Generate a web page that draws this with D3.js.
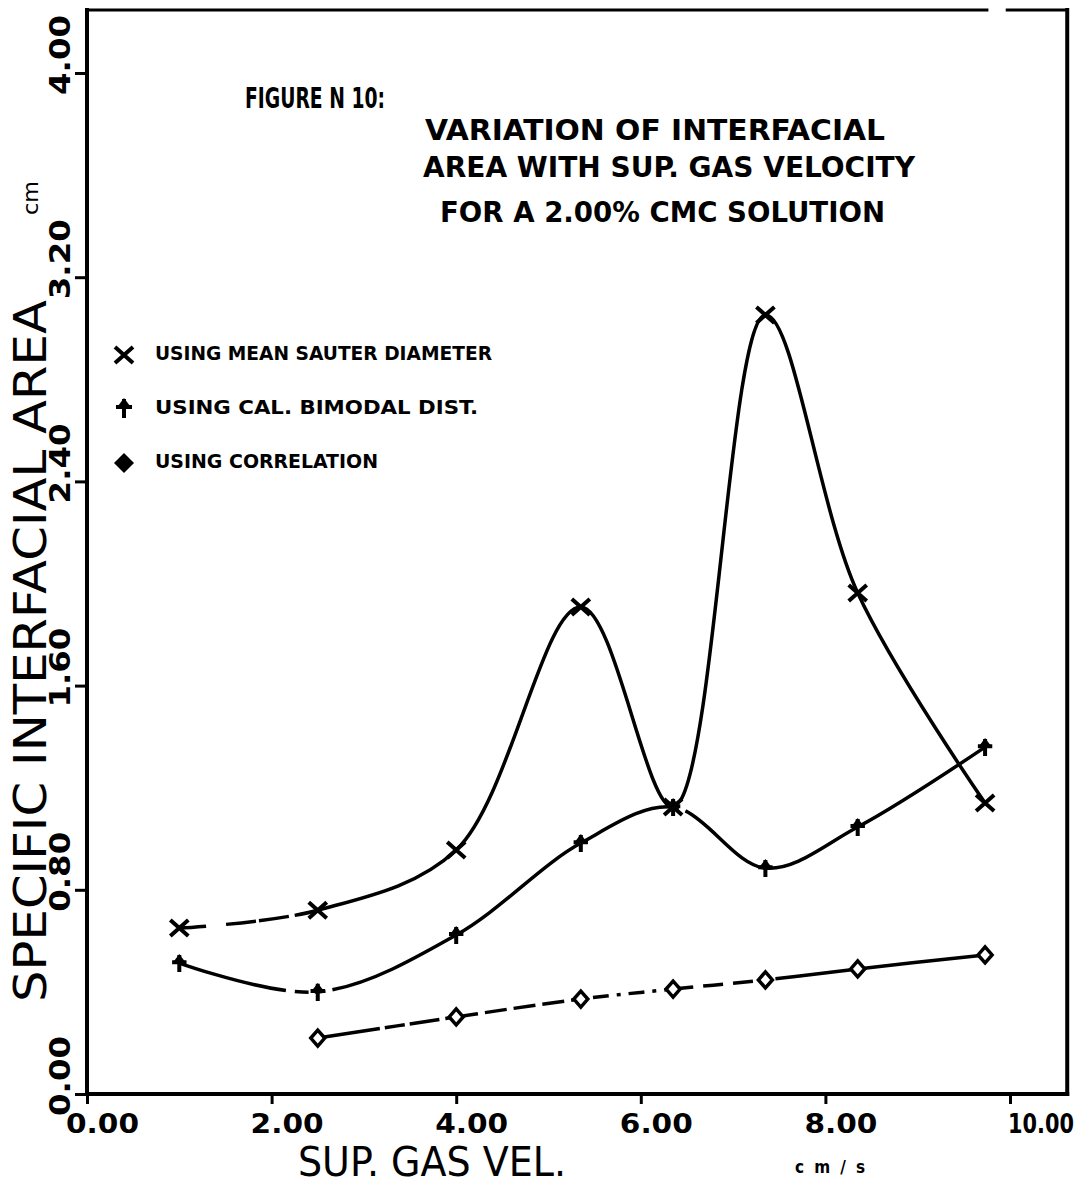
<!DOCTYPE html>
<html>
<head>
<meta charset="utf-8">
<script src="https://cdn.jsdelivr.net/npm/d3@7"></script>
<style>
  body { margin: 0; background: #fff; }
  svg { display: block; }
</style>
</head>
<body>
<script>
// Superficial gas velocity (cm/s) and specific interfacial area (cm^-1)
const velocity      = [1.0, 2.5, 4.0, 5.35, 6.35, 7.35, 8.35, 9.73];
const areaSauter    = [0.65, 0.72, 0.956, 1.908, 1.124, 3.052, 1.963, 1.14];
const areaBimodal   = [0.513, 0.40, 0.623, 0.983, 1.124, 0.885, 1.046, 1.359];
const velocityCorr  = [2.5, 4.0, 5.35, 6.35, 7.35, 8.35, 9.73];
const areaCorr      = [0.219, 0.302, 0.372, 0.411, 0.447, 0.49, 0.545];

const xTicks      = [0, 2, 4, 6, 8, 10];
const xTickLabels = ["0.00", "2.00", "4.00", "6.00", "8.00", "10.00"];
const yTicks      = [0, 0.8, 1.6, 2.4, 3.2, 4.0];
const yTickLabels = ["0.00", "0.80", "1.60", "2.40", "3.20", "4.00"];

const legendLabels = ["USING MEAN SAUTER DIAMETER", "USING CAL. BIMODAL DIST.", "USING CORRELATION"];
const titleHead  = "FIGURE N 10:";
const titleLines = ["VARIATION OF INTERFACIAL", "AREA WITH SUP. GAS VELOCITY", "FOR A 2.00% CMC SOLUTION"];
const xTitle = "SUP. GAS VEL.";
const xUnit  = "cm/s";
const yTitle = "SPECIFIC INTERFACIAL AREA";
const yUnit  = "cm";

// Pen pattern of each curve segment (dash, gap, dash, ... in px); null = solid
const sauterPen  = [[27, 20, 30, 3, 30, 6], null, null, null, [4, 6, 1000], null, null];
const bimodalPen = [[110, 9, 14, 6, 40], [8, 7, 1000], null, null, [6, 7, 1000], null, null];
const corrPen    = [[63, 5, 20, 5, 30, 6], [22, 7], [4, 8, 16, 8], [20, 10], [4, 6, 1000], null];

const W = 1084, H = 1186;
const svg = d3.select("body").append("svg").attr("width", W).attr("height", H);

const x = d3.scaleLinear().domain([0, 10]).range([87, 1010]);
const y = d3.scaleLinear().domain([0, 4]).range([1094, 73]);

const blocky = "'Liberation Sans Narrow', 'DejaVu Sans Condensed', 'DejaVu Sans', sans-serif";
const plain  = "'DejaVu Sans', 'Liberation Sans', sans-serif";

// Frame
const frameRight = x(10.62), frameTop = 10;
const frame = svg.append("g").attr("stroke", "#000").attr("fill", "none").attr("stroke-linecap", "square");
frame.append("line").attr("x1", x(0)).attr("y1", frameTop).attr("x2", x(0)).attr("y2", y(0)).attr("stroke-width", 4);
frame.append("line").attr("x1", x(0)).attr("y1", y(0)).attr("x2", frameRight).attr("y2", y(0)).attr("stroke-width", 4);
frame.append("line").attr("x1", frameRight).attr("y1", frameTop).attr("x2", frameRight).attr("y2", y(0)).attr("stroke-width", 4);
frame.append("line").attr("x1", x(0)).attr("y1", frameTop).attr("x2", x(9.75)).attr("y2", frameTop).attr("stroke-width", 3);
frame.append("line").attr("x1", x(9.97)).attr("y1", frameTop).attr("x2", frameRight).attr("y2", frameTop).attr("stroke-width", 3);

// X axis ticks and labels
const xAxis = d3.axisBottom(x).tickValues(xTicks).tickSize(10).tickFormat("");
const gx = svg.append("g").attr("transform", `translate(0,${y(0)})`).call(xAxis);
gx.select(".domain").remove();
gx.selectAll(".tick line").attr("stroke", "#000").attr("stroke-width", 3);
xTicks.forEach((v, i) => {
  const lab = xTickLabels[i];
  const long = lab.length > 4;
  svg.append("text")
    .attr("x", long ? x(v) - 2 : x(v) - 21)
    .attr("y", 1133)
    .attr("font-family", blocky).attr("font-weight", "bold").attr("font-size", 27)
    .attr("textLength", long ? 66 : 73).attr("lengthAdjust", "spacingAndGlyphs")
    .text(lab);
});

// Y axis ticks and rotated labels
const yAxis = d3.axisLeft(y).tickValues(yTicks).tickSize(12).tickFormat("");
const gy = svg.append("g").attr("transform", `translate(${x(0)},0)`).call(yAxis);
gy.select(".domain").remove();
gy.selectAll(".tick line").attr("stroke", "#000").attr("stroke-width", 3);
yTicks.forEach((v, i) => {
  svg.append("text")
    .attr("transform", `translate(70,${y(v) + 22}) rotate(-90)`)
    .attr("font-family", blocky).attr("font-weight", "bold").attr("font-size", 29)
    .attr("textLength", 80).attr("lengthAdjust", "spacingAndGlyphs")
    .text(yTickLabels[i]);
});

// Axis titles
svg.append("text")
  .attr("x", 298).attr("y", 1176)
  .attr("font-family", plain).attr("font-size", 40)
  .attr("textLength", 268).attr("lengthAdjust", "spacingAndGlyphs")
  .text(xTitle);
svg.append("text")
  .attr("x", 795).attr("y", 1173)
  .attr("font-family", blocky).attr("font-weight", "bold").attr("font-size", 17)
  .attr("textLength", 70).attr("lengthAdjust", "spacing")
  .text(xUnit);
svg.append("text")
  .attr("transform", "translate(46,1002) rotate(-90)")
  .attr("font-family", plain).attr("font-size", 44)
  .attr("textLength", 702).attr("lengthAdjust", "spacingAndGlyphs")
  .text(yTitle);
svg.append("text")
  .attr("transform", "translate(38,215) rotate(-90)")
  .attr("font-family", plain).attr("font-size", 21)
  .attr("textLength", 34).attr("lengthAdjust", "spacingAndGlyphs")
  .text(yUnit);

// Figure title
const titleSpec = [
  { t: titleHead,     x: 245, y: 108, w: 140 },
  { t: titleLines[0], x: 425, y: 140, w: 460 },
  { t: titleLines[1], x: 423, y: 177, w: 492 },
  { t: titleLines[2], x: 440, y: 222, w: 445 }
];
titleSpec.forEach(s => {
  svg.append("text")
    .attr("x", s.x).attr("y", s.y)
    .attr("font-family", blocky).attr("font-weight", "bold").attr("font-size", 29)
    .attr("textLength", s.w).attr("lengthAdjust", "spacingAndGlyphs")
    .text(s.t);
});

// Marker shapes
function drawMarker(g, kind, cx, cy, legend) {
  const m = g.append("g").attr("transform", `translate(${cx},${cy})`);
  if (kind === "cross") {
    m.append("path").attr("d", "M-9,-8L9,8M-9,8L9,-8")
      .attr("stroke", "#000").attr("stroke-width", 4).attr("fill", "none");
  } else if (kind === "plus") {
    const s = legend ? 1.0 : 0.9;
    m.append("path").attr("d", `M0,${-9 * s}L0,${10 * s}M${-8 * s},${-1 * s}L${8 * s},${-1 * s}`)
      .attr("stroke", "#000").attr("stroke-width", 4).attr("fill", "none");
    m.append("path").attr("d", `M${-6 * s},${-2 * s}L0,${-10 * s}L${6 * s},${-2 * s}Z`).attr("fill", "#000");
  } else {
    if (legend) {
      m.append("path").attr("d", "M0,-10L10,0L0,10L-10,0Z").attr("fill", "#000");
    } else {
      m.append("path").attr("d", "M0,-8L7,0L0,8L-7,0Z")
        .attr("fill", "#fff").attr("stroke", "#000").attr("stroke-width", 3.5);
    }
  }
}

// Smooth curves with a pen pattern per segment
const line = d3.line().x(d => x(d[0])).y(d => y(d[1])).curve(d3.curveCatmullRom.alpha(0.5));
const plot = svg.append("g");

function drawSeries(xs, ys, pen, kind) {
  const pts = xs.map((v, i) => [v, ys[i]]);
  const path = plot.append("path").datum(pts).attr("d", line)
    .attr("fill", "none").attr("stroke", "#000").attr("stroke-width", 3.5)
    .attr("stroke-linejoin", "round");
  const node = path.node();
  const total = node.getTotalLength();
  // arc length at each data point
  const at = [];
  let from = 0;
  pts.forEach(p => {
    const px = x(p[0]), py = y(p[1]);
    let best = from, bestD = Infinity;
    for (let L = from; L <= total; L += 0.5) {
      const q = node.getPointAtLength(L);
      const d = (q.x - px) ** 2 + (q.y - py) ** 2;
      if (d < bestD) { bestD = d; best = L; }
      if (d > bestD + 400 && bestD < 4) break;
    }
    at.push(best); from = best;
  });
  at[0] = 0; at[at.length - 1] = total;
  // on-intervals
  const on = [];
  for (let i = 0; i < pts.length - 1; i++) {
    const a = at[i], b = at[i + 1], p = pen[i];
    if (!p) { on.push([a, b]); continue; }
    let pos = a, k = 0;
    while (pos < b) {
      const len = p[k % p.length];
      if (k % 2 === 0) on.push([pos, Math.min(pos + len, b)]);
      pos += len; k++;
    }
  }
  const dash = [0];
  let cur = 0;
  on.forEach(([s, e]) => { dash.push(Math.max(0, s - cur), e - s); cur = e; });
  dash.push(total + 100);
  path.attr("stroke-dasharray", dash.map(v => v.toFixed(2)).join(" "));
  pts.forEach(p => drawMarker(plot, kind, x(p[0]), y(p[1]), false));
}

drawSeries(velocity, areaSauter, sauterPen, "cross");
drawSeries(velocity, areaBimodal, bimodalPen, "plus");
drawSeries(velocityCorr, areaCorr, corrPen, "diamond");

// Legend
const legendKinds = ["cross", "plus", "diamond"];
const legendRows = [
  { my: 355, ty: 360, w: 337 },
  { my: 408, ty: 414, w: 323 },
  { my: 463, ty: 468, w: 223 }
];
legendRows.forEach((r, i) => {
  drawMarker(svg, legendKinds[i], 124, r.my, true);
  svg.append("text")
    .attr("x", 155).attr("y", r.ty)
    .attr("font-family", blocky).attr("font-weight", "bold").attr("font-size", 19)
    .attr("textLength", r.w).attr("lengthAdjust", "spacingAndGlyphs")
    .text(legendLabels[i]);
});
</script>
</body>
</html>
